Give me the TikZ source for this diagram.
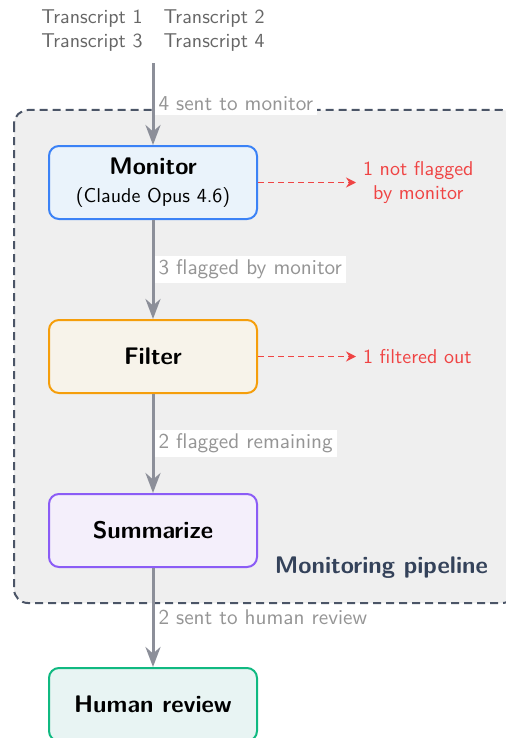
\documentclass[tikz,border=0pt]{standalone}
\usepackage{xcolor}
\usepackage{tikz}
\usetikzlibrary{arrows.meta,positioning,backgrounds}
\renewcommand{\familydefault}{\sfdefault}
\definecolor{monblue}{HTML}{3B82F6}
\definecolor{monfill}{HTML}{EAF3FB}
\definecolor{filtorange}{HTML}{F59E0B}
\definecolor{filtfill}{HTML}{F7F3EA}
\definecolor{sumpurple}{HTML}{8B5CF6}
\definecolor{sumfill}{HTML}{F4EFFB}
\definecolor{humgreen}{HTML}{10B981}
\definecolor{humfill}{HTML}{E8F4F3}
\definecolor{pipegray}{HTML}{EFEFEF}
\definecolor{pipeslate}{HTML}{4B5567}
\definecolor{titleslate}{HTML}{34425A}
\definecolor{flowgray}{HTML}{8C8F99}
\definecolor{lblgray}{HTML}{959595}
\definecolor{srcgray}{HTML}{666666}
\definecolor{dropred}{HTML}{EF4444}

\begin{document}
\begin{tikzpicture}[
  node distance=49.5pt and 49pt,
  stage/.style={draw, rounded corners=5pt, line width=1pt, minimum width=104pt, minimum height=36.5pt, align=center, font=\large\bfseries},
  monbox/.style={stage, fill=monfill, draw=monblue},
  filtbox/.style={stage, fill=filtfill, draw=filtorange},
  sumbox/.style={stage, fill=sumfill, draw=sumpurple},
  humbox/.style={stage, fill=humfill, draw=humgreen},
  flow/.style={-{Stealth[length=10pt,width=7.5pt]}, line width=1.5pt, draw=flowgray},
  flowlbl/.style={anchor=west, fill=white, inner sep=2pt, text=lblgray, font=\fontsize{10.6pt}{12.7pt}\selectfont},
  drop/.style={-{Stealth[length=5pt,width=5pt]}, dash pattern=on 3pt off 2pt, line width=0.85pt, draw=dropred},
  droplbl/.style={text=dropred, align=center},
  pipeline/.style={draw=pipeslate, fill=pipegray, line width=1pt, dash pattern=on 4pt off 2.5pt, rounded corners=7pt}
]
\useasboundingbox (0,0) rectangle (252.5pt,-369pt);

% sources
\node[text=srcgray] (transcripts) at (76.5pt,-15.5pt)
  {\begin{tabular}{@{}l@{\hspace{10.5pt}}l@{}}Transcript 1 & Transcript 2\\ Transcript 3 & Transcript 4\end{tabular}};

% pipeline stages
\node[monbox] (monitor) at (76.5pt,-91.25pt) {Monitor\\{\normalsize\mdseries (Claude Opus 4.6)}};
\node[filtbox, below=of monitor] (filter) {Filter};
\node[sumbox, below=of filter] (summarize) {Summarize};
\node[humbox, below=of summarize] (human) {Human review};

\node[droplbl, right=of monitor] (notflagged) {1 not flagged\\by monitor};
\node[droplbl, right=of filter] (filteredout) {1 filtered out};
\node[anchor=east, text=titleslate, font=\large\bfseries] (pipelbl) at (247.5pt,-284pt) {Monitoring pipeline};

\begin{scope}[on background layer]
\draw[pipeline] (7pt,-55pt) rectangle (258pt,-301.5pt);
\end{scope}

\draw[flow, shorten <=0.5pt] (transcripts) -- (monitor) node[flowlbl, midway] {4 sent to monitor};
\draw[flow] (monitor) -- (filter) node[flowlbl, midway] {3 flagged by monitor};
\draw[flow] (filter) -- (summarize) node[flowlbl, midway] {2 flagged remaining};
\draw[flow] (summarize) -- (human) node[flowlbl, midway] {2 sent to human review};

\draw[drop] (monitor) -- (notflagged);
\draw[drop] (filter) -- (filteredout);
\end{tikzpicture}
\end{document}
